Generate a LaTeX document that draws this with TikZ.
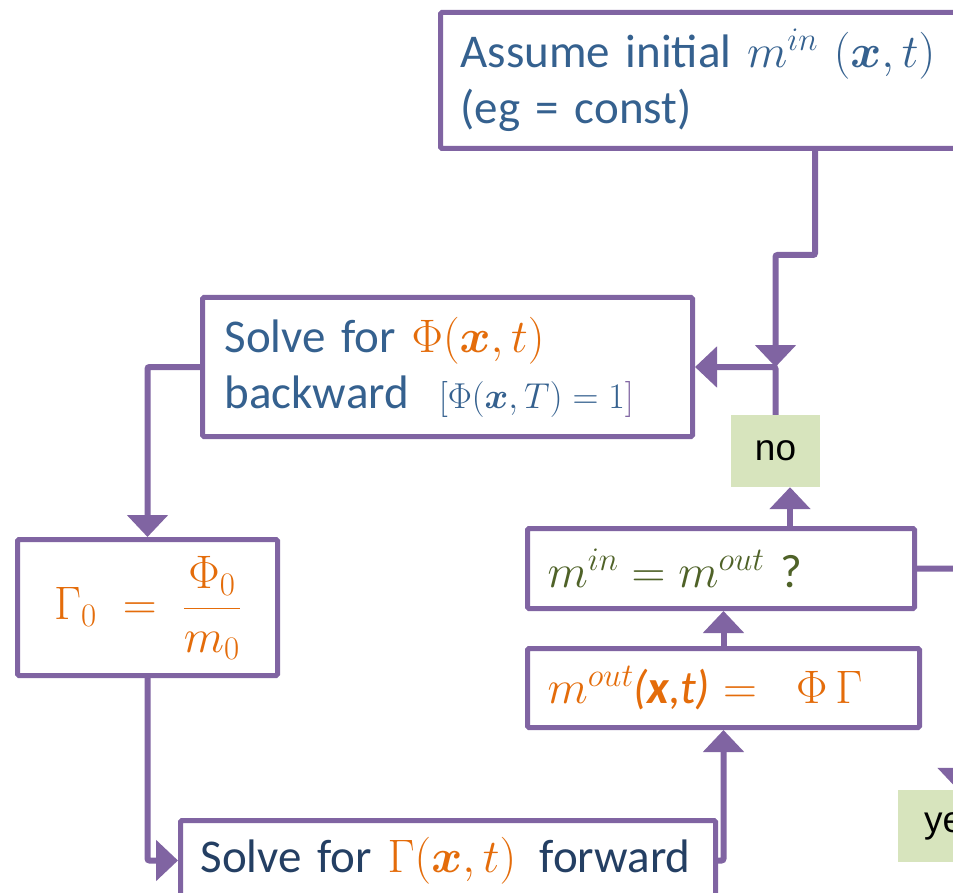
\RequirePackage{fix-cm}
\documentclass[tikz,border=0pt]{standalone}
\usepackage{amsmath}
\usepackage{bm}
\usepackage[no-math]{fontspec}
\setmainfont{Carlito}
\newfontfamily\labelfont{Liberation Sans}
\usetikzlibrary{arrows.meta,calc}
\definecolor{vpurple}{HTML}{8064A2}
\definecolor{vorange}{HTML}{E46C0A}
\definecolor{vblue}{HTML}{35618F}
\definecolor{vdblue}{HTML}{243F63}
\definecolor{vgreen}{HTML}{4F6228}
\definecolor{vfill}{HTML}{D7E4BD}
\tikzset{
  pbox/.style={draw=vpurple, line width=5pt, fill=white, rounded corners=1.5pt,
    anchor=north west, font=\fontsize{47}{56}\selectfont},
  lbl/.style={fill=vfill, inner sep=0pt, text=black, font=\labelfont\fontsize{37}{42}\selectfont},
  conn/.style={draw=vpurple, line width=6pt, rounded corners=2pt},
  arrowc/.style={-{Triangle[width=40pt,length=22pt]}},
}
\begin{document}
\begin{tikzpicture}[x=1pt,y=-1pt]
\useasboundingbox (0,0) rectangle (953,893);
\clip (0,0) rectangle (953,893);
% boxes
\node[pbox, text=vblue, align=left, text width=520pt, inner xsep=20pt, minimum height=136pt] (assume) at (438,10)
  {Assume initial $m^{in}$ $(\bm{x},t)$\\(eg = const)};
\node[pbox, text=vblue, align=left, text width=446pt, inner xsep=22pt, minimum height=139pt] (phi) at (200,295)
  {Solve for \textcolor{vorange}{$\Phi(\bm{x},t)$}\\backward\hspace{30pt}{\fontsize{36}{40}\selectfont$[\Phi(\bm{x},T)=1$\textcolor{vpurple}{$]$}}};
\node[pbox, text=vorange, minimum width=260pt, minimum height=136pt, inner sep=0pt] (gamma0) at (15,537)
  {$\displaystyle \Gamma_0\;=\;\frac{\Phi_0}{m_0}$};
\node[pbox, text=vdblue, align=left, text width=495pt, inner xsep=20pt, minimum height=80pt, inner ysep=0pt] (gammabox) at (178,818)
  {\mbox{Solve for \textcolor{vorange}{$\Gamma(\bm{x},t)$}\ \,forward}};
\node[pbox, text=vorange, align=left, text width=352pt, inner xsep=20pt, minimum height=79pt, inner ysep=0pt] (mout) at (525,646)
  {$m^{out}$\textit{(\textbf{x},t)}$\;=\;\;\Phi\,\Gamma$};
\node[pbox, text=vgreen, align=left, text width=347pt, inner xsep=20pt, minimum height=80pt, inner ysep=0pt] (eq) at (525,526)
  {$m^{in}=m^{out}$ ?};
\node[lbl, minimum width=89pt, minimum height=72pt] (no) at (775.5,451) {no};
\node[lbl, minimum width=110pt, minimum height=72pt] (yes) at (953,826) {yes};
% connectors
\coordinate (bend) at (815,255);
\coordinate (nx) at (790,0);
\coordinate (yx) at (958,0);
\draw[conn, arrowc] (bend |- assume.south) -- (bend) -| (no.north |- phi.east);
\draw[conn, arrowc] (no.north) |- (phi.east);
\draw[conn, arrowc] (phi.west) -| (gamma0.north);
\draw[conn, arrowc] (gamma0.south) |- (gammabox.west);
\draw[conn, arrowc] (gammabox.east) -| (mout.south);
\draw[conn, arrowc] (mout.north) -- (mout.north |- eq.south);
\draw[conn, arrowc] (nx |- eq.north) -- (nx |- no.south);
\draw[conn, arrowc] (eq.east) -| (yx |- yes.north);
\end{tikzpicture}
\end{document}
